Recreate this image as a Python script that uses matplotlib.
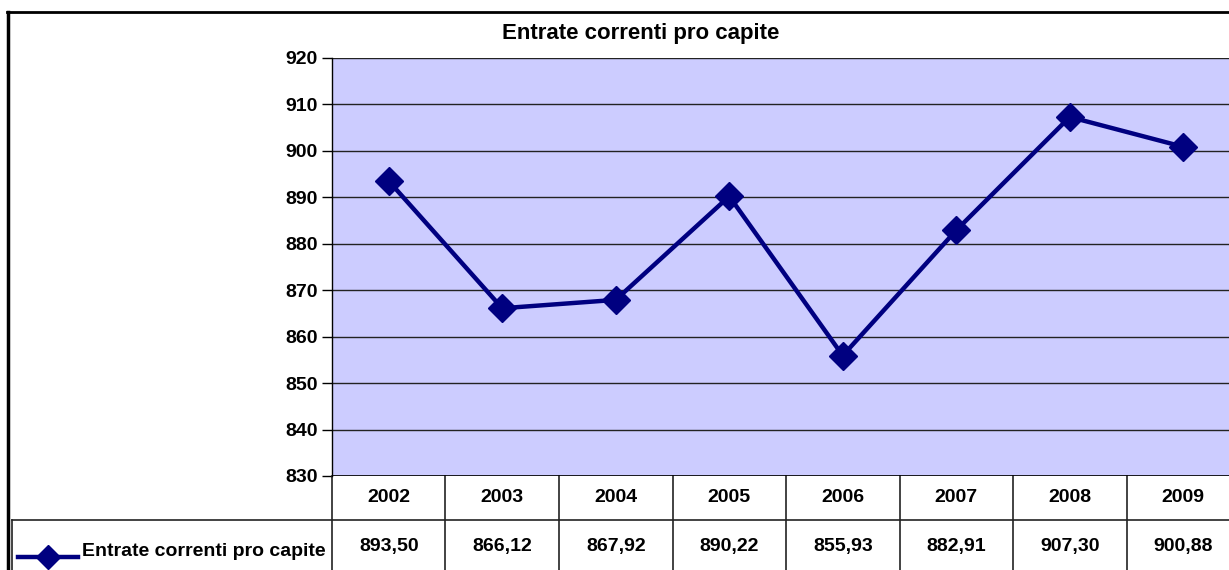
import matplotlib
matplotlib.use("Agg")
import matplotlib.pyplot as plt
from matplotlib.lines import Line2D
from matplotlib import font_manager

years = ["2002", "2003", "2004", "2005", "2006", "2007", "2008", "2009"]
values = [893.50, 866.12, 867.92, 890.22, 855.93, 882.91, 907.30, 900.88]
series_name = "Entrate correnti pro capite"
title = "Entrate correnti pro capite"

names = {f.name for f in font_manager.fontManager.ttflist}
fam = ["Liberation Sans Narrow", "Liberation Sans", "DejaVu Sans"]
fam = [f for f in fam if f in names] or ["DejaVu Sans"]
plt.rcParams["font.family"] = fam
FS = 14

W, H = 1229, 570
fig = plt.figure(figsize=(W / 100, H / 100), dpi=100)
fig.patch.set_facecolor("white")

# plot area in pixels (extends past right edge like the original)
x0, x1, ytop, ybot = 332, 1240, 58, 476
ax = fig.add_axes([x0 / W, (H - ybot) / H, (x1 - x0) / W, (ybot - ytop) / H])
ax.set_facecolor("#ccccff")
xs = list(range(len(years)))
ax.plot(xs, values, color="#000080", lw=3.2, marker="D", ms=14, zorder=3)
ax.set_xlim(-0.5, len(years) - 0.5)
ax.set_ylim(830, 920)
ax.set_yticks(range(830, 921, 10))
ax.set_yticklabels([str(v) for v in range(830, 921, 10)], fontsize=FS, fontweight="bold")
ax.tick_params(axis="y", length=7, width=1, color="black", pad=3)
ax.set_xticks([])
ax.grid(axis="y", color="#222222", lw=1)
for s in ["top", "right", "bottom"]:
    ax.spines[s].set_visible(False)
ax.spines["left"].set_color("black")
ax.spines["left"].set_linewidth(1)
ax.axhline(830, color="black", lw=1.2, zorder=4)

# data table below
def fy(py):
    return (ybot - py) / (ybot - ytop)

tr = ax.get_xaxis_transform()
row_split = 520
for i, (y, v) in enumerate(zip(years, values)):
    ax.text(i, fy(498), y, transform=tr, ha="center", va="center",
            fontsize=FS, fontweight="bold", clip_on=False)
    ax.text(i, fy(546), f"{v:.2f}".replace(".", ","), transform=tr, ha="center",
            va="center", fontsize=FS, fontweight="bold", clip_on=False)
for b in [i - 0.5 for i in range(len(years) + 1)]:
    ax.plot([b, b], [0, fy(575)], transform=tr, color="#222222", lw=1.2, clip_on=False)

# figure-level lines (pixel coords)
def fline(xa, ya, xb, yb, **kw):
    fig.add_artist(Line2D([xa / W, xb / W], [(H - ya) / H, (H - yb) / H], **kw))

fline(12, row_split, W, row_split, color="#222222", lw=1.2)
fline(12, row_split, 12, H, color="#222222", lw=1.2)
fline(7, 12, W, 12, color="black", lw=2)
fline(8, 12, 8, H, color="black", lw=2.5)

# legend key
fline(18, 557, 78, 557, color="#000080", lw=3.2)
fig.add_artist(Line2D([48 / W], [(H - 557) / H], marker="D", ms=12,
                      color="#000080", lw=0))
fig.text(82 / W, (H - 551) / H, series_name, ha="left", va="center",
         fontsize=FS, fontweight="bold")

fig.text(641 / W, (H - 34) / H, title, ha="center", va="center",
         fontsize=16, fontweight="bold")

fig.savefig("out.png", dpi=100)
